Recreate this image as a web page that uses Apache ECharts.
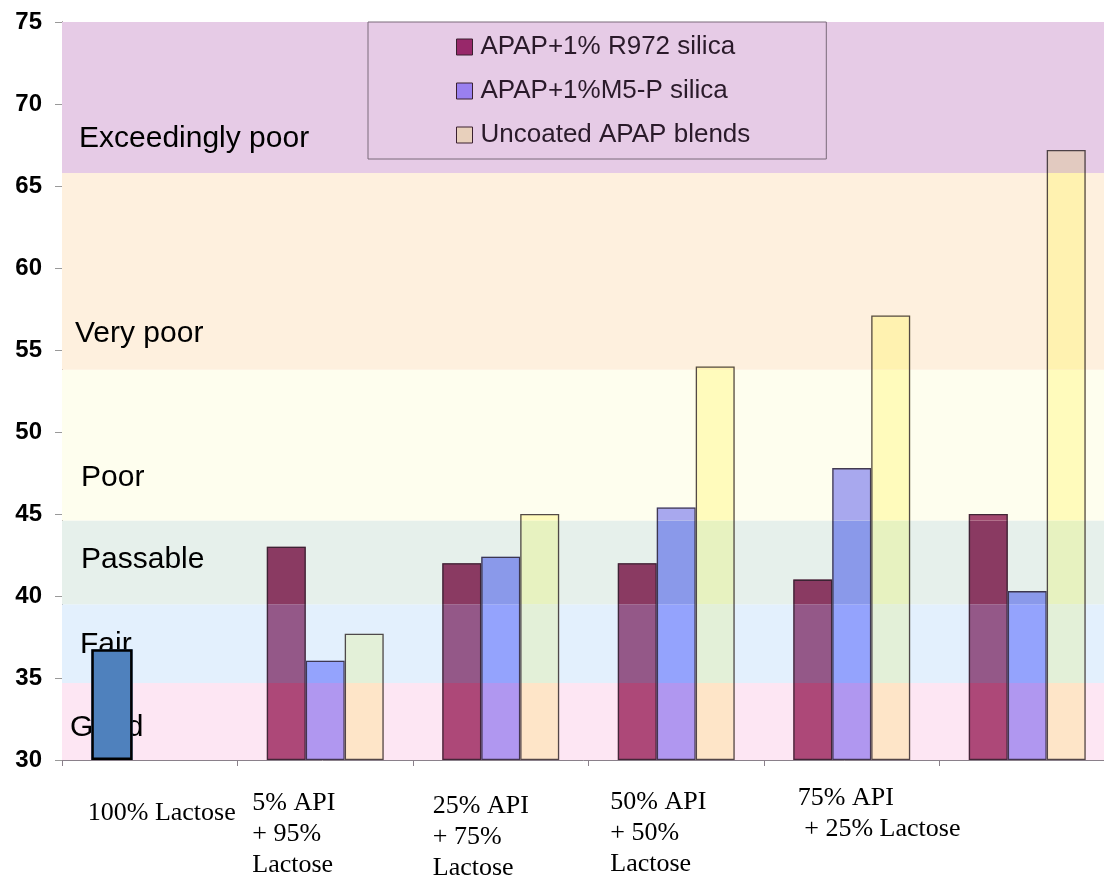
<!DOCTYPE html>
<html><head><meta charset="utf-8">
<script src="https://cdn.jsdelivr.net/npm/echarts@6/dist/echarts.min.js"></script>
<style>html,body{margin:0;padding:0;background:#fff;overflow:hidden}#c{width:1104px;height:876px}</style>
</head><body><div id="c"></div>
<script>
// ---------- data ----------
const categories = ['100% Lactose', '5% API\n+ 95%\nLactose', '25% API\n+ 75%\nLactose', '50% API\n+ 50%\nLactose', '75% API\n + 25% Lactose', ''];
const seriesNames = ['APAP+1% R972 silica', 'APAP+1%M5-P silica', 'Uncoated APAP blends'];
const r972 = [null, 43.0, 42.0, 42.0, 41.0, 45.0];
const m5p = [null, 36.05, 42.4, 45.4, 47.8, 40.3];
const uncoated = [null, 37.7, 45.0, 54.0, 57.1, 67.2];
const lactoseOnly = [36.75, null, null, null, null, null];
const bandNames = ['Good', 'Fair', 'Passable', 'Poor', 'Very poor', 'Exceedingly poor'];
const bandEdges = [30, 34.7, 39.5, 44.6, 53.8, 65.8, 75];
const yMin = 30, yMax = 75, yStep = 5;

// ---------- styles ----------
const bandColors = ['#fde6f3', '#e3f0fd', '#e6f0eb', '#fefeee', '#fef0de', '#e6cbe6'];
const bandLabelOffsets = [[3, 6], [13, 1.5], [14, -2.5], [14, 32.5], [8, 62.5], [12, 41.5]];
const segPalettes = [
  ['#ad4878', '#945888', '#8a3a62', '#a3476f', '#a3476f', '#a3476f'],
  ['#b097f0', '#94a3fd', '#8a99ea', '#a8a8ee', '#a8a8ee', '#a8a8ee'],
  ['#fee5c8', '#e3f0d8', '#e7f2c0', '#fffbbc', '#fff2b0', '#e2cac0']
];
const legendColors = ['#98286a', '#9a80f0', '#e8d0bc'];
const lactoseColor = '#4f81bd';
const barRatio = 0.222;
const catLabelPad = [[18, 0, 0, -62], [8, 0, 0, -73], [11, 0, 0, -68], [7, 0, 0, -66], [2.5, 0, 0, -54], [0, 0, 0, 0]];

const chart = echarts.init(document.getElementById('c'), null, {renderer: 'canvas'});

function makeRender(slot, palette, stroke, lw, widen) {
  return function (params, api) {
    const cat = api.value(0), v = api.value(1);
    const base = api.coord([cat, yMin]);
    const bw = api.size([1, 0])[0] * barRatio;
    const x = base[0] - 1.5 * bw + slot * bw;
    const w = bw * (widen || 1);
    const children = [];
    for (let b = 0; b < bandEdges.length - 1; b++) {
      const lo = Math.max(bandEdges[b], yMin), hi = Math.min(bandEdges[b + 1], v);
      if (hi <= lo) continue;
      const yT = api.coord([cat, hi])[1], yB = api.coord([cat, lo])[1];
      children.push({type: 'rect', shape: {x: x, y: yT, width: w, height: yB - yT}, style: {fill: palette[b]}});
    }
    const yTop = api.coord([cat, v])[1];
    children.push({type: 'rect', shape: {x: x + lw / 2, y: yTop + lw / 2, width: w - lw, height: base[1] - yTop - lw},
      style: {fill: null, stroke: stroke, lineWidth: lw}});
    return {type: 'group', children: children};
  };
}
function toData(arr) {
  const out = [];
  arr.forEach((v, i) => { if (v !== null) out.push([i, v]); });
  return out;
}

const bandData = bandNames.map((n, i) => [
  {name: n, yAxis: bandEdges[i], itemStyle: {color: bandColors[i]},
   label: {offset: bandLabelOffsets[i]}},
  {yAxis: bandEdges[i + 1]}
]);

const seriesArrays = [r972, m5p, uncoated];
const series = [{
  type: 'line', data: [], z: 1, silent: true,
  markArea: {
    silent: true,
    label: {show: true, position: 'insideLeft', formatter: '{b}', color: '#000',
      fontFamily: 'Liberation Sans', fontSize: 30},
    data: bandData
  }
}];
seriesArrays.forEach((arr, i) => {
  series.push({
    type: 'custom', name: seriesNames[i], z: 3,
    itemStyle: {color: legendColors[i], borderColor: '#3a2030', borderWidth: 1},
    renderItem: makeRender(i, segPalettes[i], 'rgba(40,30,40,0.8)', 1.3, 1),
    encode: {x: 0, y: 1},
    data: toData(arr)
  });
});
series.push({
  type: 'custom', name: 'lactose', z: 4,
  itemStyle: {color: lactoseColor},
  renderItem: makeRender(0, bandNames.map(() => lactoseColor), '#000', 2.5, 1.06),
  encode: {x: 0, y: 1},
  data: toData(lactoseOnly)
});

const catLabelStyle = {align: 'left', verticalAlign: 'top', lineHeight: 31,
  fontFamily: 'Liberation Serif', fontSize: 26, color: '#000'};

chart.setOption({
  animation: false,
  backgroundColor: '#fff',
  grid: {left: 62, top: 22, right: -11, bottom: 116, containLabel: false, outerBoundsMode: 'none'},
  legend: {
    data: seriesNames, orient: 'vertical', left: 368, top: 22,
    padding: [12, 76, 11, 88], itemGap: 18, itemWidth: 16, itemHeight: 16, icon: 'rect',
    borderColor: '#7a6a7a', borderWidth: 1, selectedMode: false,
    itemStyle: {borderColor: '#3a2030', borderWidth: 1},
    textStyle: {fontFamily: 'Liberation Sans', fontSize: 26, color: '#2a1a2a', lineHeight: 24, padding: [0, 0, 0, 3]}
  },
  xAxis: {
    type: 'category',
    data: categories.map((c, i) => ({value: c, textStyle: Object.assign({padding: catLabelPad[i]}, catLabelStyle)})),
    boundaryGap: true,
    axisLine: {show: true, lineStyle: {color: '#8a808a', width: 1}},
    axisTick: {show: true, length: 6, alignWithLabel: false, interval: 0, lineStyle: {color: '#8a808a'}},
    axisLabel: Object.assign({interval: 0, margin: 20}, catLabelStyle),
    splitLine: {show: false}
  },
  yAxis: {
    type: 'value', min: yMin, max: yMax, interval: yStep,
    axisLine: {show: true, lineStyle: {color: '#3a2a2a', width: 1}},
    axisTick: {show: true, length: 7, lineStyle: {color: '#999'}},
    axisLabel: {margin: 20, fontFamily: 'Liberation Sans', fontSize: 24, fontWeight: 'bold', color: '#000'},
    splitLine: {show: false}
  },
  series: series
});
</script></body></html>
